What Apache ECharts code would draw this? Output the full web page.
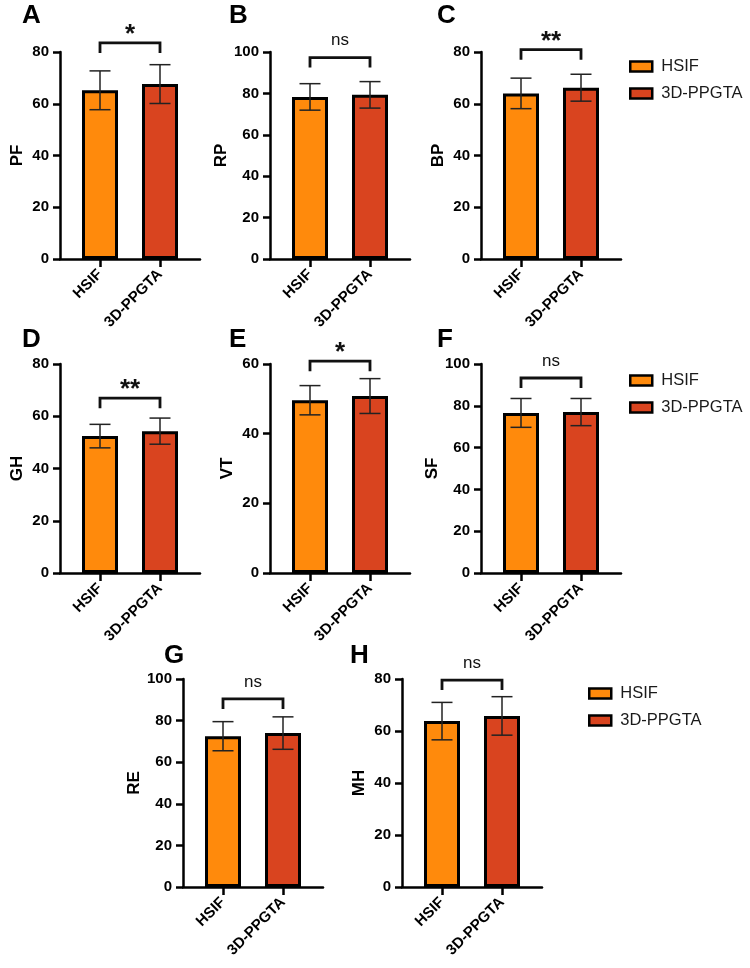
<!DOCTYPE html>
<html>
<head>
<meta charset="utf-8">
<script src="https://cdn.jsdelivr.net/npm/echarts@6/dist/echarts.min.js"></script>
<style>
  html, body { margin: 0; padding: 0; background: #fff; }
  #main { width: 750px; height: 968px; }
</style>
</head>
<body>
<div id="main"></div>
<script>
// panel data
const categories = ['HSIF', '3D-PPGTA'];
const panelLetters = ['A', 'B', 'C', 'D', 'E', 'F', 'G', 'H'];
const yNames = ['PF', 'RP', 'BP', 'GH', 'VT', 'SF', 'RE', 'MH'];
const yMax = [80, 100, 80, 80, 60, 100, 100, 80];
const hsifMean = [65.2, 78.3, 64.0, 52.4, 49.6, 76.6, 72.5, 63.8];
const hsifSD = [7.5, 6.4, 5.9, 4.5, 4.2, 6.9, 7.0, 7.2];
const ppgtaMean = [67.6, 79.3, 66.2, 54.3, 50.8, 77.0, 74.0, 65.8];
const ppgtaSD = [7.5, 6.4, 5.2, 5.0, 5.0, 6.5, 7.8, 7.4];
const sigLabels = ['*', 'ns', '**', '**', '*', 'ns', 'ns', 'ns'];
const bracketY = [83.5, 97.3, 80.9, 66.9, 60.8, 93.3, 90.4, 79.6];

// layout (pixels)
const gridLeft = [60, 270, 481, 60, 270, 481, 183, 402];
const gridTop = [52, 52, 52, 364, 364, 364, 679, 679];
const gridHeight = [207, 207, 207, 209, 209, 209, 208, 208];
const letterPos = [[22, 3], [229, 3], [437, 3], [22, 327], [229, 327], [437, 327], [164, 643], [350, 643]];
const legendPos = [[629, 58], [629, 372], [588, 685]];

const FONT = "'Liberation Sans', Arial, sans-serif";
const ORANGE = '#FF8A0C';
const RED = '#D9441F';

const chart = echarts.init(document.getElementById('main'));

const grid = [], xAxis = [], yAxis = [], series = [], title = [];

panelLetters.forEach(function (letter, i) {
  grid.push({ left: gridLeft[i], top: gridTop[i], width: 140, height: gridHeight[i] });

  xAxis.push({
    type: 'value', gridIndex: i, min: -2 / 3, max: 5 / 3,
    axisLine: { show: true, onZero: false, lineStyle: { color: '#000', width: 2.5 } },
    axisTick: { show: true, customValues: [0, 1], length: 8, lineStyle: { color: '#000', width: 2.5 } },
    axisLabel: {
      customValues: [0, 1], rotate: 45, margin: 13,
      formatter: function (v) { return categories[Math.round(v)]; },
      color: '#000', fontWeight: 'bold', fontSize: 15, fontFamily: FONT
    },
    splitLine: { show: false }
  });

  yAxis.push({
    type: 'value', gridIndex: i, min: 0, max: yMax[i], interval: 20,
    name: yNames[i], nameLocation: 'middle', nameGap: 34,
    nameTextStyle: { color: '#000', fontWeight: 'bold', fontSize: 17, fontFamily: FONT },
    axisLine: { show: true, onZero: false, lineStyle: { color: '#000', width: 2.5 } },
    axisTick: { show: true, length: 7, lineStyle: { color: '#000', width: 2.5 } },
    axisLabel: { color: '#000', fontWeight: 'bold', fontSize: 15, margin: 11, fontFamily: FONT },
    splitLine: { show: false }
  });

  title.push({
    text: letter, left: letterPos[i][0], top: letterPos[i][1], padding: 0,
    textStyle: { fontSize: 26, fontWeight: 'bold', color: '#000', fontFamily: FONT }
  });

  const barStyle = function (c) {
    return { color: c, borderColor: '#000', borderWidth: 3 };
  };
  series.push({
    name: 'HSIF', type: 'bar', xAxisIndex: i, yAxisIndex: i,
    barWidth: 36, barGap: '-100%', itemStyle: barStyle(ORANGE),
    data: [[0, hsifMean[i]]]
  });
  series.push({
    name: '3D-PPGTA', type: 'bar', xAxisIndex: i, yAxisIndex: i,
    barWidth: 36, barGap: '-100%', itemStyle: barStyle(RED),
    data: [[1, ppgtaMean[i]]]
  });

  // error bars (mean ± SD)
  series.push({
    type: 'custom', xAxisIndex: i, yAxisIndex: i, z: 5, silent: true,
    encode: { x: 0, y: 1 },
    data: [[0, hsifMean[i], hsifSD[i]], [1, ppgtaMean[i], ppgtaSD[i]]],
    renderItem: function (params, api) {
      const x = api.value(0), m = api.value(1), s = api.value(2);
      const hi = api.coord([x, m + s]);
      const lo = api.coord([x, m - s]);
      const half = 10.5;
      const st = { stroke: '#222', lineWidth: 1.5 };
      return {
        type: 'group', children: [
          { type: 'line', shape: { x1: hi[0], y1: hi[1], x2: lo[0], y2: lo[1] }, style: st },
          { type: 'line', shape: { x1: hi[0] - half, y1: hi[1], x2: hi[0] + half, y2: hi[1] }, style: st },
          { type: 'line', shape: { x1: lo[0] - half, y1: lo[1], x2: lo[0] + half, y2: lo[1] }, style: st }
        ]
      };
    }
  });

  // significance bracket
  series.push({
    type: 'custom', xAxisIndex: i, yAxisIndex: i, z: 5, silent: true,
    encode: { x: [0, 1], y: 2 },
    data: [[0, 1, bracketY[i], sigLabels[i]]],
    renderItem: function (params, api) {
      const p0 = api.coord([api.value(0), api.value(2)]);
      const p1 = api.coord([api.value(1), api.value(2)]);
      const lab = sigLabels[i];
      const star = lab.indexOf('*') >= 0;
      return {
        type: 'group', children: [
          {
            type: 'polyline',
            shape: { points: [[p0[0], p0[1] + 10], [p0[0], p0[1]], [p1[0], p1[1]], [p1[0], p1[1] + 10]] },
            style: { stroke: '#111', lineWidth: 2.8, fill: null }
          },
          {
            type: 'text', x: (p0[0] + p1[0]) / 2, y: p0[1] - (star ? 8 : 17),
            style: {
              text: lab, align: 'center', verticalAlign: 'middle', fill: '#111',
              font: (star ? 'bold 26px ' : '17px ') + FONT
            }
          }
        ]
      };
    }
  });
});

const legend = legendPos.map(function (p) {
  return {
    data: categories, orient: 'vertical', left: p[0], top: p[1], padding: 0,
    icon: 'rect', itemWidth: 22, itemHeight: 10, itemGap: 10,
    itemStyle: { borderColor: '#000', borderWidth: 2.5 },
    textStyle: { fontSize: 16.5, color: '#1a1a1a', fontFamily: FONT, padding: [0, 0, 0, 4] },
    selectedMode: false
  };
});

chart.setOption({
  animation: false,
  backgroundColor: '#fff',
  title: title,
  legend: legend,
  grid: grid,
  xAxis: xAxis,
  yAxis: yAxis,
  series: series
});
</script>
</body>
</html>
